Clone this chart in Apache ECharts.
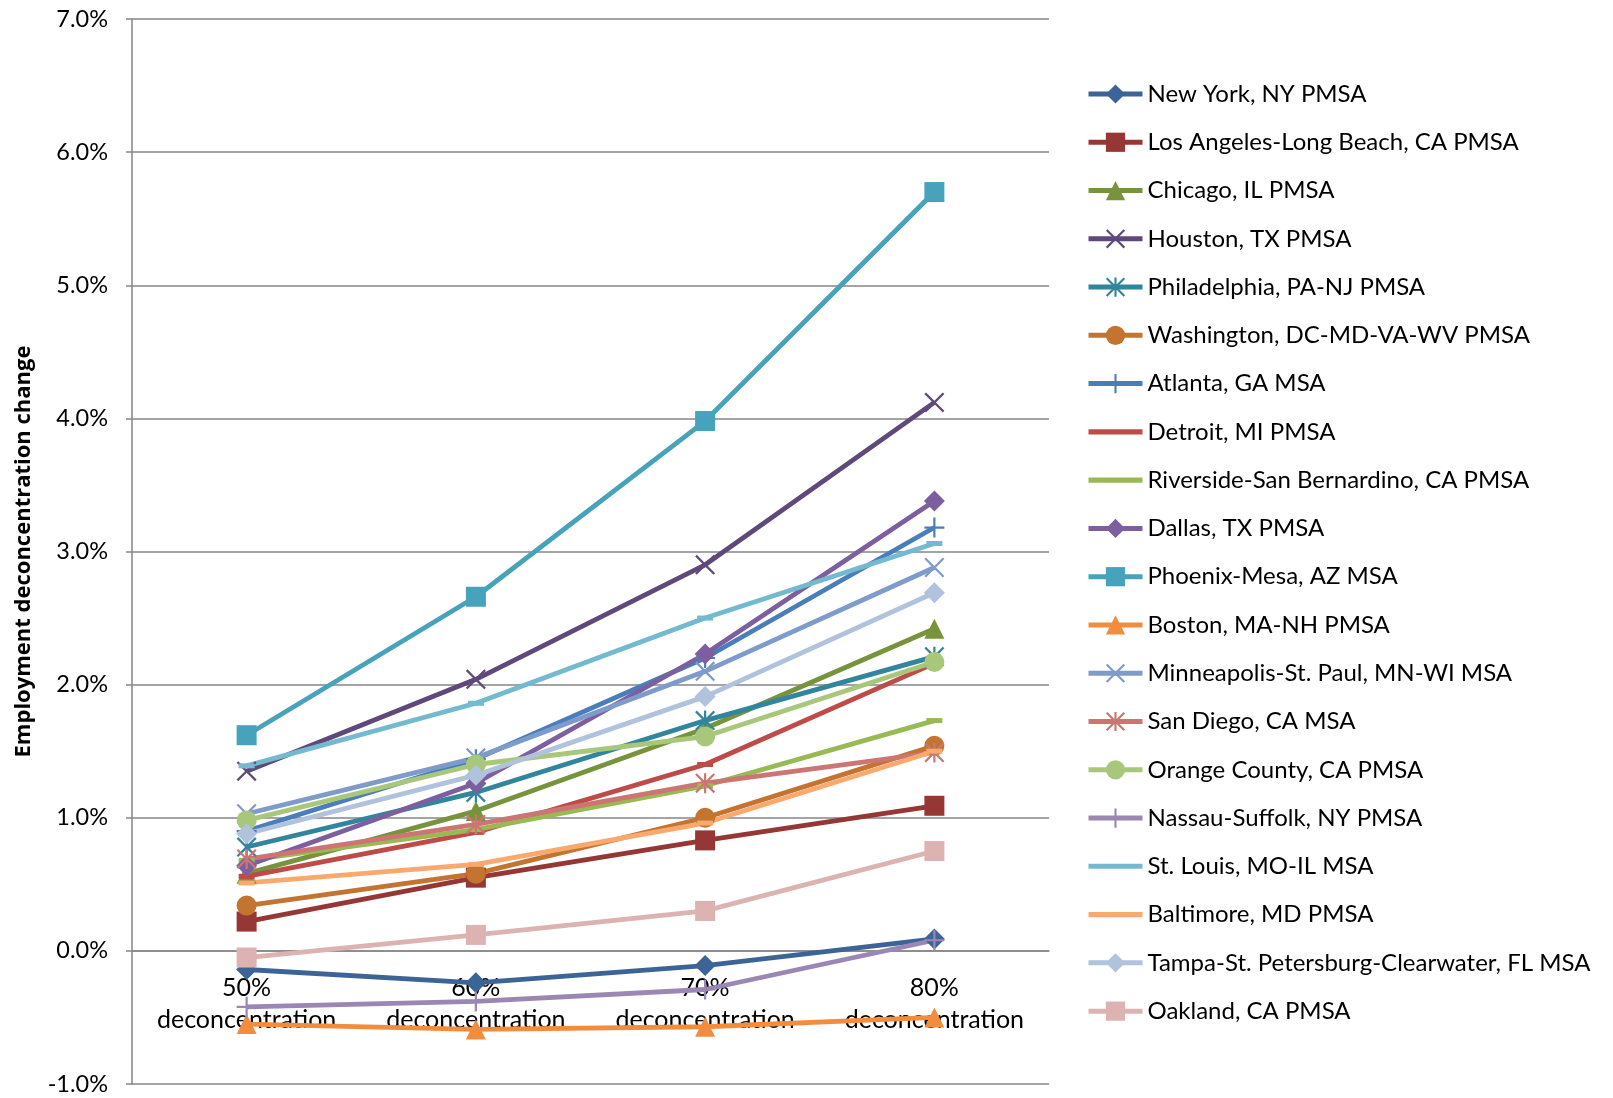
<!DOCTYPE html>
<html>
<head>
<meta charset="utf-8">
<title>Employment deconcentration change</title>
<script src="https://cdn.jsdelivr.net/npm/echarts@6/dist/echarts.min.js"></script>
<style>
  html, body { margin: 0; padding: 0; background: #ffffff; }
  #chart { width: 1613px; height: 1098px; }
</style>
</head>
<body>
<div id="chart"></div>
<script>
// Deconcentration thresholds on the category axis
const categories = ['50%\ndeconcentration', '60%\ndeconcentration', '70%\ndeconcentration', '80%\ndeconcentration'];

// Y-axis tick range (percent)
const yMin = -1;
const yMax = 7;
const yStep = 1;

// Employment deconcentration change by metro area, in percent
const newYork      = [-0.14, -0.24, -0.11, 0.09];
const losAngeles   = [0.22, 0.55, 0.83, 1.09];
const chicago      = [0.58, 1.05, 1.67, 2.42];
const houston      = [1.35, 2.04, 2.90, 4.12];
const philadelphia = [0.78, 1.19, 1.73, 2.21];
const washington   = [0.34, 0.58, 1.00, 1.54];
const atlanta      = [0.90, 1.44, 2.20, 3.18];
const detroit      = [0.56, 0.89, 1.40, 2.16];
const riverside    = [0.68, 0.91, 1.24, 1.73];
const dallas       = [0.64, 1.26, 2.23, 3.38];
const phoenix      = [1.62, 2.66, 3.98, 5.70];
const boston       = [-0.55, -0.59, -0.57, -0.50];
const minneapolis  = [1.03, 1.45, 2.10, 2.88];
const sanDiego     = [0.69, 0.95, 1.26, 1.49];
const orangeCounty = [0.98, 1.40, 1.61, 2.17];
const nassau       = [-0.42, -0.38, -0.29, 0.08];
const stLouis      = [1.39, 1.86, 2.50, 3.06];
const baltimore    = [0.51, 0.65, 0.96, 1.50];
const tampa        = [0.88, 1.32, 1.91, 2.69];
const oakland      = [-0.05, 0.12, 0.30, 0.75];

// Marker shapes
const X_MARK = 'path://M0,0.8L0.8,0L5,4.2L9.2,0L10,0.8L5.8,5L10,9.2L9.2,10L5,5.8L0.8,10L0,9.2L4.2,5Z';
const STAR_MARK = X_MARK + 'M4.45,0L5.55,0L5.55,10L4.45,10Z';
const PLUS_MARK = 'path://M4.45,0L5.55,0L5.55,4.45L10,4.45L10,5.55L5.55,5.55L5.55,10L4.45,10L4.45,5.55L0,5.55L0,4.45L4.45,4.45Z';
const LINE_ICON = 'path://M0,0L53,0L53,5L0,5Z';

const seriesDefs = [
  { name: 'New York, NY PMSA', data: newYork, color: '#3C6496', symbol: 'diamond', size: 21 },
  { name: 'Los Angeles-Long Beach, CA PMSA', data: losAngeles, color: '#953735', symbol: 'rect', size: 20 },
  { name: 'Chicago, IL PMSA', data: chicago, color: '#77933C', symbol: 'triangle', size: 20 },
  { name: 'Houston, TX PMSA', data: houston, color: '#5F497A', symbol: X_MARK, size: 20 },
  { name: 'Philadelphia, PA-NJ PMSA', data: philadelphia, color: '#31859C', symbol: STAR_MARK, size: 20 },
  { name: 'Washington, DC-MD-VA-WV PMSA', data: washington, color: '#C27430', symbol: 'circle', size: 20 },
  { name: 'Atlanta, GA MSA', data: atlanta, color: '#4A7EBB', symbol: PLUS_MARK, size: 20 },
  { name: 'Detroit, MI PMSA', data: detroit, color: '#BE4B48', symbol: 'rect', size: [16, 5], dash: true },
  { name: 'Riverside-San Bernardino, CA PMSA', data: riverside, color: '#98B954', symbol: 'rect', size: [16, 5], dash: true },
  { name: 'Dallas, TX PMSA', data: dallas, color: '#7D5FA0', symbol: 'diamond', size: 21 },
  { name: 'Phoenix-Mesa, AZ MSA', data: phoenix, color: '#46A3BB', symbol: 'rect', size: 20 },
  { name: 'Boston, MA-NH PMSA', data: boston, color: '#F38D3E', symbol: 'triangle', size: 20 },
  { name: 'Minneapolis-St. Paul, MN-WI MSA', data: minneapolis, color: '#7E9BCB', symbol: X_MARK, size: 20 },
  { name: 'San Diego, CA MSA', data: sanDiego, color: '#CC7573', symbol: STAR_MARK, size: 20 },
  { name: 'Orange County, CA PMSA', data: orangeCounty, color: '#A9C77B', symbol: 'circle', size: 20 },
  { name: 'Nassau-Suffolk, NY PMSA', data: nassau, color: '#9A87B3', symbol: PLUS_MARK, size: 20 },
  { name: 'St. Louis, MO-IL MSA', data: stLouis, color: '#73B9CF', symbol: 'rect', size: [16, 5], dash: true },
  { name: 'Baltimore, MD PMSA', data: baltimore, color: '#F9A96E', symbol: 'rect', size: [16, 5], dash: true },
  { name: 'Tampa-St. Petersburg-Clearwater, FL MSA', data: tampa, color: '#B1C2DD', symbol: 'diamond', size: 21 },
  { name: 'Oakland, CA PMSA', data: oakland, color: '#DDB3B2', symbol: 'rect', size: 20 }
];

const FONT = 'Lato, "Open Sans", sans-serif';

// Plot box
const GRID_TOP = 19;
const GRID_BOTTOM = 14;
const CHART_H = 1098;
const plotH = CHART_H - GRID_TOP - GRID_BOTTOM;
// The category axis sits on the 0% line, so it is lifted from the bottom edge by the span below zero
const zeroOffset = -plotH * (0 - yMin) / (yMax - yMin);

const chart = echarts.init(document.getElementById('chart'), null, { renderer: 'canvas' });

chart.setOption({
  backgroundColor: '#ffffff',
  animation: false,
  textStyle: { fontFamily: FONT },
  grid: { left: 132, right: 564, top: GRID_TOP, bottom: GRID_BOTTOM, containLabel: false, outerBoundsMode: 'none' },
  legend: {
    orient: 'vertical',
    left: 1081,
    top: 77,
    itemWidth: 54,
    itemHeight: 24,
    itemGap: 24.27,
    lineStyle: { width: 5 },
    textStyle: { fontFamily: FONT, fontSize: 24, color: '#000000', lineHeight: 24 },
    data: seriesDefs.map(d => d.dash ? { name: d.name, icon: LINE_ICON } : { name: d.name })
  },
  xAxis: {
    type: 'category',
    data: categories,
    boundaryGap: true,
    position: 'bottom',
    offset: zeroOffset,
    axisLine: { onZero: false, lineStyle: { color: '#868686', width: 1.5 } },
    axisTick: { show: false },
    axisLabel: { fontFamily: FONT, fontSize: 25, color: '#000000', lineHeight: 32, margin: 21, interval: 0 }
  },
  yAxis: {
    type: 'value',
    min: yMin,
    max: yMax,
    interval: yStep,
    name: 'Employment deconcentration change',
    nameLocation: 'middle',
    nameRotate: 90,
    nameGap: 97,
    nameTextStyle: { fontFamily: '"Open Sans", Lato, sans-serif', fontSize: 22, fontWeight: 'bold', color: '#000000' },
    axisLine: { show: true, lineStyle: { color: '#868686', width: 1.5 } },
    axisTick: { show: true, inside: false, length: 6, lineStyle: { color: '#868686', width: 1.5 } },
    axisLabel: {
      fontFamily: FONT, fontSize: 23.5, color: '#000000', margin: 24,
      formatter: v => v.toFixed(1) + '%'
    },
    splitLine: { show: true, lineStyle: { color: '#868686', width: 1.5 } }
  },
  series: seriesDefs.map(d => ({
    name: d.name,
    type: 'line',
    data: d.data,
    color: d.color,
    symbol: d.symbol,
    symbolSize: d.size,
    showAllSymbol: true,
    lineStyle: { width: 4.8, color: d.color },
    itemStyle: { color: d.color, borderWidth: 0 },
    emphasis: { disabled: true },
    z: 2
  }))
});
</script>
</body>
</html>
